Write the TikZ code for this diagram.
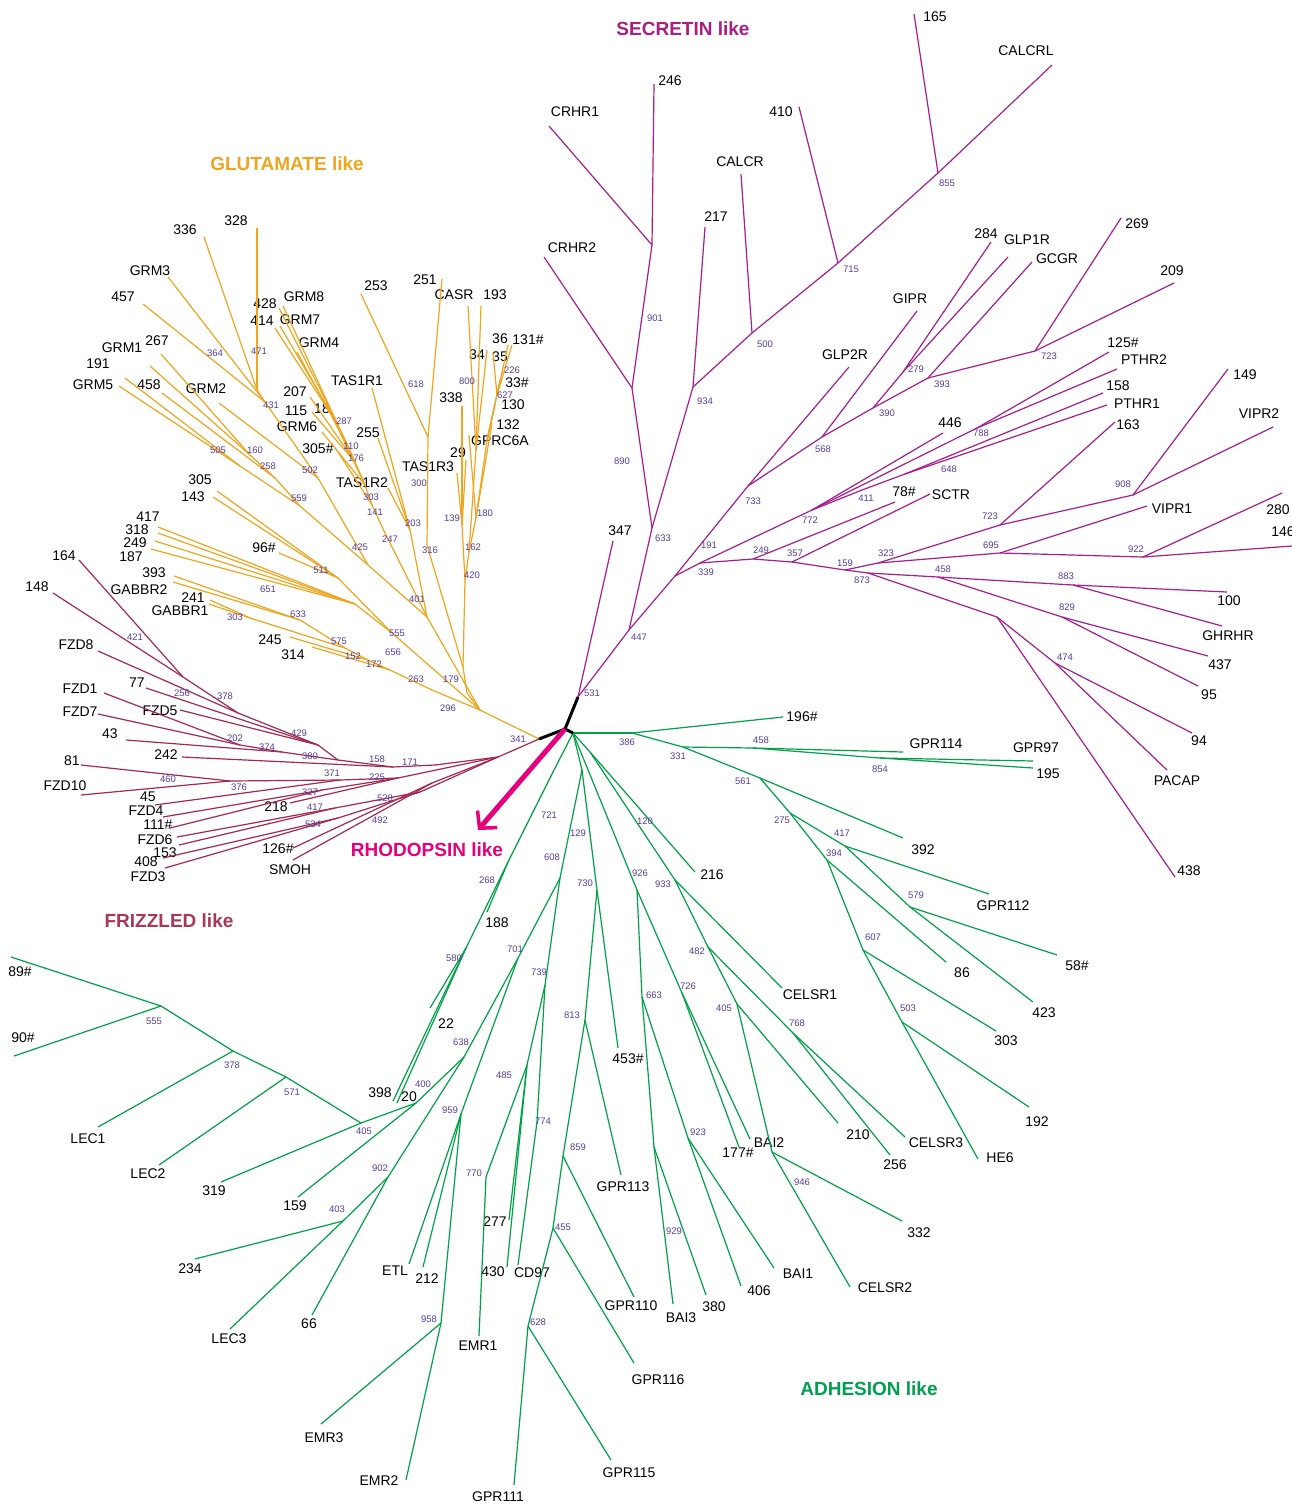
\documentclass[tikz,border=0pt]{standalone}
\usepackage{fontspec}
\setmainfont{Liberation Sans}
\usetikzlibrary{arrows.meta}
\definecolor{glucol}{RGB}{240,165,30}
\definecolor{fzdcol}{RGB}{165,40,80}
\definecolor{fzdtit}{RGB}{170,55,90}
\definecolor{seccol}{RGB}{165,30,140}
\definecolor{sectit}{RGB}{170,30,130}
\definecolor{adhcol}{RGB}{0,160,70}
\definecolor{adhtit}{RGB}{0,160,80}
\definecolor{bootcol}{RGB}{85,60,160}
\definecolor{rhocol}{RGB}{230,0,126}
\begin{document}
\begin{tikzpicture}[x=1pt,y=-1pt,
    glu/.style={draw=glucol, line width=1.2pt},
    fzd/.style={draw=fzdcol, line width=1.2pt},
    sec/.style={draw=seccol, line width=1.2pt},
    adh/.style={draw=adhcol, line width=1.2pt},
    stem/.style={draw=black, line width=3pt},
    rho/.style={draw=rhocol, line width=5pt, -{Straight Barb[length=12pt,width=26pt,line width=3.5pt]}},
    leaf/.style={inner sep=0pt, font=\fontsize{14}{14}\selectfont},
    boot/.style={inner sep=0pt, text=bootcol, font=\fontsize{9.5}{10}\selectfont},
    title/.style={inner sep=0pt, font=\fontsize{19}{19}\selectfont\bfseries}]
\useasboundingbox (0,0) rectangle (1292,1505);

% titles
\node[title, text=sectit] (secT) at (683,29) {SECRETIN like};
\node[title, text=glucol] (gluT) at (287,164) {GLUTAMATE like};
\node[title, text=fzdtit] (fzdT) at (169,921) {FRIZZLED like};
\node[title, text=adhtit] (adhT) at (869,1389) {ADHESION like};
\node[title, text=rhocol] (rhoT) at (427,850) {RHODOPSIN like};

% root
\coordinate (root) at (565,729);
\coordinate (rhtip) at (478,830);

% ---------------- secretin ----------------
\foreach \nm/\x/\y in {sn531/578/697, sn447/629/630, sn633/652/528, sn890/632/388,
  sn901/652/245, sn934/693/387, sn500/752/333, sn715/838/263, sn855/938/173,
  sn339/675/576, sn191/700/563, sn733/748/486, sn568/822/437, sn390/873/408,
  sn279/903/372, sn393/928/378, sn723/1035/351, sn772/812/510, sn411/862/490,
  sn788/977/428, sn648/905/474, sn249/753/559, sn357/792/562, sn159/845/570,
  sn323/878/563, sn723b/1000/525, sn908/1133/495, sn695/1000/553, sn922/1143/557,
  sn873/868/573, sn458/938/577, sn883/1073/585, sn829/1062/617, sn997/997/617,
  sn474/1055/663}
  \coordinate (\nm) at (\x,\y);
\foreach \nm/\ex/\ey/\lx/\ly/\lab in {s347/613/541/620/531/347, sCRHR2/544/257/572/248/CRHR2,
  sCRHR1/549/126/575/112/CRHR1, s246/654/84/670/81/246, s217/705/227/716/217/217,
  sCALCR/741/174/740/162/CALCR, s410/799/107/781/112/410, s165/914/14/935/17/165,
  sCALCRL/1052/65/1026/51/CALCRL, sGLP2R/849/367/845/355/GLP2R, sGIPR/917/311/910/299/GIPR,
  s284/991/242/986/234/284, sGLP1R/1008/257/1027/240/GLP1R, sGCGR/1032/262/1057/259/GCGR,
  s269/1121/218/1137/224/269, s209/1174/283/1172/271/209, s446/943/433/950/423/446,
  s125h/1109/352/1123/343/125\#, sPTHR2/1117/369/1144/360/PTHR2, s158/1103/393/1118/386/158,
  sPTHR1/1107/405/1137/404/PTHR1, s78h/895/502/904/492/78\#, sSCTR/930/494/951/495/SCTR,
  s163/1115/422/1128/425/163, s149/1228/369/1245/375/149, sVIPR2/1273/427/1259/414/VIPR2,
  sVIPR1/1147/506/1172/509/VIPR1, s280/1282/493/1278/510/280, s146/1292/546/1283/532/146,
  s100/1227/592/1229/601/100, sGHRHR/1222/626/1228/636/GHRHR, s437/1208/656/1220/665/437,
  s95/1198/686/1209/695/95, s94/1192/733/1199/741/94, sPACAP/1167/770/1177/781/PACAP,
  s438/1175/877/1189/871/438}
  {\coordinate (\nm) at (\ex,\ey); \node[leaf] (\nm-t) at (\lx,\ly) {\lab};}
\foreach \a/\b in {sn531/s347, sn531/sn447, sn447/sn633, sn447/sn339, sn633/sn890,
  sn633/sn934, sn890/sCRHR2, sn890/sn901, sn901/sCRHR1, sn901/s246, sn934/s217,
  sn934/sn500, sn500/sCALCR, sn500/sn715, sn715/s410, sn715/sn855, sn855/s165,
  sn855/sCALCRL, sn339/sn733, sn339/sn191, sn733/sGLP2R, sn733/sn568, sn568/sGIPR,
  sn568/sn390, sn390/sn279, sn279/s284, sn279/sGLP1R, sn390/sn393, sn393/sGCGR,
  sn393/sn723, sn723/s269, sn723/s209, sn191/sn772, sn772/s446, sn772/sn788,
  sn788/s125h, sn788/sPTHR2, sn772/sn411, sn411/sn648, sn648/s158, sn648/sPTHR1,
  sn191/sn249, sn249/s78h, sn249/sn357, sn357/sSCTR, sn357/sn159, sn159/sn323,
  sn323/sn723b, sn723b/s163, sn723b/sn908, sn908/s149, sn908/sVIPR2, sn323/sn695,
  sn695/sVIPR1, sn695/sn922, sn922/s280, sn922/s146, sn159/sn873, sn873/sn458,
  sn458/sn883, sn883/s100, sn883/sGHRHR, sn458/sn829, sn829/s437, sn829/s95,
  sn873/sn997, sn997/s438, sn997/sn474, sn474/s94, sn474/sPACAP}
  \draw[sec] (\a) -- (\b);
\foreach \v/\x/\y [count=\i] in {531/592/693, 447/639/637, 633/663/538, 890/622/461,
  901/655/318, 934/705/401, 500/765/344, 715/851/269, 855/947/183, 339/706/572,
  191/709/545, 733/753/501, 568/823/449, 390/887/413, 279/916/369, 393/942/384,
  723/1049/356, 772/810/520, 411/866/498, 788/981/433, 648/949/469, 249/761/550,
  357/795/553, 159/845/563, 873/862/580, 323/886/553, 723/990/516, 695/991/545,
  908/1123/484, 922/1136/549, 458/943/569, 883/1066/576, 829/1067/607, 474/1065/657}
  \node[boot] (bsS\i) at (\x,\y) {\v};

% ---------------- glutamate ----------------
\foreach \nm/\x/\y in {gn0/539/739, gn296/480/710, gn179/467/693, gnA/463/667,
  gn420/465/580, gn139/462/525, gn162/469/552, gn180/476/518, gn627/487/440,
  gn226/497/395, gn800/476/450, gn316/427/545, gn618/428/437, gn401/427/617,
  gn203/410/530, gn247/385/533, gn141/372/505, gn303/365/485, gn176/355/462,
  gn110/349/448, gn287/338/425, gn425/368/565, gn502/318/478, gn431/265/402,
  gn471/257/390, gn559/300/506, gn258/275/478, gn160/250/455, gn505/240/466,
  gn555/392/633, gn511/338/578, gn651/355/604, gn263/432/690, gn172/390/670,
  gn152/368/660, gn575/345/648, gn633/300/620, gn303b/250/618}
  \coordinate (\nm) at (\x,\y);
\foreach \nm/\ex/\ey/\lx/\ly/\lab in {g328/257/228/236/221/328, g336/204/237/185/230/336,
  gGRM3/168/277/150/271/GRM3, g457/143/304/123/297/457, gGRM1/150/366/122/348/GRM1,
  g267/161/354/157/341/267, g191/125/378/98/364/191, gGRM5/119/386/93/385/GRM5,
  g458/162/393/149/385/458, gGRM2/219/403/206/389/GRM2, gGRM8/283/306/304/297/GRM8,
  g428/279/308/265/304/428, gGRM7/280/326/300/320/GRM7, g414/275/328/262/321/414,
  gGRM4/297/352/319/343/GRM4, g207/310/397/295/392/207, g115/312/412/296/411/115,
  g18/333/418/322/409/18, gGRM6/322/432/297/427/GRM6, g305h/338/452/318/449/305\#,
  g253/361/294/376/286/253, g251/442/279/425/280/251, gCASR/468/306/454/295/CASR,
  g193/481/306/495/295/193, g36/508/345/500/339/36, g131h/512/345/528/340/131\#,
  g34/487/350/477/355/34, g35/493/353/500/357/35, g33h/500/380/517/383/33\#,
  g130/495/405/513/405/130, g338/462/406/451/398/338, g132/492/423/508/425/132,
  gGPRC6A/469/435/500/441/GPRC6A, g29/466/460/458/453/29, gTAS1R3/457/473/428/467/TAS1R3,
  gTAS1R1/372/388/357/381/TAS1R1, g255/378/438/368/433/255, gTAS1R2/388/488/362/483/TAS1R2,
  g305/217/491/200/480/305, g143/213/497/193/497/143, g417/158/527/148/517/417,
  g318/158/533/137/530/318, g249/155/541/135/543/249, g187/151/549/131/557/187,
  g393/174/576/154/573/393, gGABBR2/173/582/139/590/GABBR2, g241/210/600/193/598/241,
  gGABBR1/209/604/180/611/GABBR1, g96h/279/553/264/548/96\#, g245/290/637/270/640/245,
  g314/312/647/293/655/314}
  {\coordinate (\nm) at (\ex,\ey); \node[leaf] (\nm-t) at (\lx,\ly) {\lab};}
\foreach \a/\b in {gn0/gn296, gn296/gn179, gn179/gnA, gnA/gn420, gn420/gn139,
  gn139/g338, gn139/g29, gn139/gTAS1R3, gn420/gn162, gn162/gn180, gn180/g132,
  gn180/gGPRC6A, gn180/gn627, gn627/g33h, gn627/g130, gn627/gn226, gn226/g36,
  gn226/g131h, gn226/g35, gn162/gn800, gn800/gCASR, gn800/g193, gn800/g34,
  gnA/gn316, gn316/gn618, gn618/g253, gn618/g251, gn296/gn401, gn401/gn203,
  gn203/gTAS1R1, gn203/g255, gn203/gTAS1R2, gn401/gn247, gn247/gn141, gn141/gn303,
  gn303/gn176, gn176/gn110, gn110/gn287, gn287/gGRM8, gn287/g428, gn287/gGRM7,
  gn287/g414, gn110/gGRM4, gn176/g207, gn176/g115, gn303/g18, gn303/gGRM6,
  gn141/g305h, gn401/gn425, gn425/gn502, gn502/gn431, gn502/gGRM2, gn431/gn471,
  gn471/g328, gn471/g336, gn431/gGRM3, gn431/g457, gn425/gn559, gn559/gn258,
  gn258/gn160, gn160/gGRM1, gn160/g267, gn258/g458, gn559/gn505, gn505/g191,
  gn505/gGRM5, gn296/gn555, gn555/gn511, gn511/g305, gn511/g143, gn511/g96h,
  gn555/gn651, gn651/g417, gn651/g318, gn651/g249, gn651/g187, gn296/gn263,
  gn263/gn172, gn172/g314, gn172/gn152, gn152/g245, gn152/gn575, gn575/gn633,
  gn633/g393, gn633/gGABBR2, gn575/gn303b, gn303b/g241, gn303b/gGABBR1}
  \draw[glu] (\a) -- (\b);
\foreach \v/\x/\y [count=\i] in {364/215/353, 471/259/351, 431/271/405, 505/218/450,
  160/255/450, 258/268/466, 502/310/470, 559/299/498, 287/344/421, 110/351/446,
  176/356/458, 303/371/497, 141/375/512, 247/390/539, 425/360/547, 511/321/570,
  401/417/599, 203/413/523, 316/430/550, 300/419/483, 618/416/384, 800/467/381,
  139/452/518, 180/485/513, 162/473/547, 420/472/575, 651/268/589, 633/298/614,
  303/235/617, 575/339/641, 555/397/633, 656/393/652, 152/353/656, 172/374/664,
  263/416/679, 179/451/679, 296/448/708, 226/512/370, 627/505/395}
  \node[boot] (bsG\i) at (\x,\y) {\v};

% ---------------- frizzled ----------------
\foreach \nm/\x/\y in {fn0/498/757, fn171/435/765, fn158/393/767, fn380/338/760,
  fn429/318/745, fn378/238/713, fn421/183/677, fn374/282/752, fn202/240/745,
  fn225/398/778, fn371/340/780, fn460/230/781, fn327/322/790, fn528/420/792,
  fn417/335/808, fn534/338/818, fn492/432/783}
  \coordinate (\nm) at (\x,\y);
\foreach \nm/\ex/\ey/\lx/\ly/\lab in {f164/79/560/64/556/164, f148/53/593/37/587/148,
  fFZD8/98/651/76/645/FZD8, f77/146/688/137/683/77, fFZD1/104/693/80/689/FZD1,
  fFZD5/180/710/160/711/FZD5, fFZD7/98/714/80/712/FZD7, f43/126/740/110/734/43,
  f242/182/757/166/755/242, f81/81/765/72/761/81, fFZD10/81/795/65/786/FZD10,
  f45/155/805/148/797/45, fFZD4/163/817/146/811/FZD4, f111h/170/828/158/825/111\#,
  f218/290/803/276/807/218, fFZD6/177/837/155/840/FZD6, f153/179/845/165/853/153,
  f408/163/858/146/862/408, fFZD3/165/868/148/877/FZD3, f126h/293/848/278/849/126\#,
  fSMOH/293/860/290/870/SMOH}
  {\coordinate (\nm) at (\ex,\ey); \node[leaf] (\nm-t) at (\lx,\ly) {\lab};}
\foreach \a/\b in {gn0/fn0, fn0/fn171, fn171/fn158, fn158/f242, fn158/fn380,
  fn380/fn429, fn429/fn378, fn378/fn421, fn421/f164, fn421/f148, fn378/fFZD8,
  fn429/f77, fn429/fFZD5, fn380/fn374, fn374/fn202, fn202/fFZD1, fn202/fFZD7,
  fn374/f43, fn0/fn225, fn225/fn371, fn371/fn460, fn460/f81, fn460/fFZD10,
  fn371/f45, fn225/fn327, fn327/fFZD4, fn327/f111h, fn225/f218, fn0/fn528,
  fn528/fn417, fn417/fFZD6, fn417/f153, fn528/fn534, fn534/f408, fn534/fFZD3,
  fn0/fn492, fn492/f126h, fn492/fSMOH}
  \draw[fzd] (\a) -- (\b);
\foreach \v/\x/\y [count=\i] in {421/135/637, 256/182/693, 378/225/696, 429/299/733,
  202/235/738, 374/267/747, 380/310/756, 158/377/759, 171/410/762, 371/332/773,
  225/377/777, 460/168/779, 376/239/787, 327/310/792, 528/385/798, 417/315/807,
  534/313/824, 492/380/820, 341/518/739}
  \node[boot] (bsF\i) at (\x,\y) {\v};

% ---------------- adhesion ----------------
\foreach \nm/\x/\y in {an0/573/733, an386/632/733, an331/683/747, an458/753/748,
  an854/880/758, an561/760/778, an275/790/813, an417/845/846, an579/910/907,
  an394/827/860, an607/863/950, an503/902/1022, an120/590/752, an933/675/880,
  an482/708/947, an768/793/1033, an405/737/1004, an946/772/1152, an926/637/890,
  an726/682/993, an663/642/997, an923/688/1138, an929/654/1147, an129/582/770,
  an730/597/890, an813/585/1020, an859/563/1156, an455/553/1228, an628/528/1326,
  an608/560/878, an701/518/958, an739/545/985, an638/464/1057, an959/461/1114,
  an400/416/1103, an902/388/1177, an405b/361/1123, an571/286/1077, an378/233/1051,
  an555/161/1006, an403/343/1221, an958/441/1323, an485/527/1065, an770/486/1177,
  an774/537/1122, an721/553/772, an268/508/862, an580/466/948}
  \coordinate (\nm) at (\x,\y);
\foreach \nm/\ex/\ey/\lx/\ly/\lab in {a196h/783/717/802/717/196\#, aGPR114/903/752/936/744/GPR114,
  aGPR97/1033/761/1036/748/GPR97, a195/1033/768/1048/774/195, a392/903/838/923/850/392,
  aGPR112/989/894/1003/906/GPR112, a58h/1057/955/1077/966/58\#, a423/1033/1002/1044/1013/423,
  a86/946/962/962/973/86, a303/996/1031/1006/1041/303, a192/1029/1107/1037/1122/192,
  aHE6/978/1159/1000/1158/HE6, a216/695/872/712/875/216, aCELSR1/782/988/810/995/CELSR1,
  aCELSR3/905/1137/936/1143/CELSR3, a256/890/1155/895/1165/256, a210/838/1123/858/1135/210,
  aCELSR2/850/1287/885/1288/CELSR2, a332/902/1221/919/1233/332, a177h/739/1147/738/1153/177\#,
  aBAI2/750/1139/769/1143/BAI2, aBAI1/774/1268/798/1274/BAI1, a406/741/1286/759/1291/406,
  a380/706/1295/714/1307/380, aBAI3/673/1304/681/1318/BAI3, a453h/618/1048/628/1059/453\#,
  aGPR113/621/1175/623/1187/GPR113, aGPR110/634/1297/631/1306/GPR110,
  aGPR116/634/1363/658/1380/GPR116, aGPR115/611/1460/629/1473/GPR115,
  aGPR111/514/1485/498/1497/GPR111, aCD97/518/1265/532/1273/CD97, a430/507/1267/493/1272/430,
  a277/509/1220/495/1222/277, aEMR1/479/1336/478/1346/EMR1, aEMR2/406/1480/379/1481/EMR2,
  aEMR3/321/1424/324/1438/EMR3, aETL/409/1264/395/1271/ETL, a212/423/1267/427/1279/212,
  a66/312/1315/309/1324/66, aLEC3/230/1329/229/1339/LEC3, a234/195/1259/190/1269/234,
  a159/298/1197/295/1206/159, a319/221/1182/214/1191/319, aLEC2/159/1165/148/1174/LEC2,
  aLEC1/98/1127/88/1139/LEC1, a89h/11/957/20/972/89\#, a90h/14/1056/23/1038/90\#,
  a398/393/1101/380/1093/398, a20/397/1103/409/1097/20, a22/430/1008/446/1024/22,
  a188/487/912/497/923/188}
  {\coordinate (\nm) at (\ex,\ey); \node[leaf] (\nm-t) at (\lx,\ly) {\lab};}
\foreach \a/\b in {an0/an386, an386/a196h, an386/an331, an331/an458, an458/aGPR114,
  an458/an854, an854/aGPR97, an854/a195, an331/an561, an561/a392, an561/an275,
  an275/an417, an417/aGPR112, an417/an579, an579/a58h, an579/a423, an275/an394,
  an394/a86, an394/an607, an607/a303, an607/an503, an503/a192, an503/aHE6,
  an0/an120, an120/a216, an120/an933, an933/aCELSR1, an933/an482, an482/an768,
  an768/aCELSR3, an768/a256, an482/an405, an405/a210, an405/an946, an946/aCELSR2,
  an946/a332, an0/an926, an926/an726, an726/aBAI2, an726/a177h, an926/an663,
  an663/an923, an923/a406, an923/aBAI1, an663/an929, an929/aBAI3, an929/a380,
  an0/an129, an129/an730, an730/a453h, an730/an813, an813/aGPR113, an813/an859,
  an859/aGPR110, an859/an455, an455/aGPR116, an455/an628, an628/aGPR111,
  an628/aGPR115, an129/an608, an608/an701, an701/an638, an638/an400, an400/a159,
  an400/an405b, an405b/a319, an405b/an571, an571/aLEC2, an571/an378, an378/aLEC1,
  an378/an555, an555/a89h, an555/a90h, an638/an902, an902/a66, an902/an403,
  an403/a234, an403/aLEC3, an701/an959, an959/aETL, an959/a212, an959/an958,
  an958/aEMR3, an958/aEMR2, an608/an739, an739/an485, an485/an770, an770/aEMR1,
  an485/a277, an485/a430, an739/an774, an774/aCD97, an0/an721, an721/an268,
  an268/a188, an268/an580, an580/a22, an580/a398, an580/a20}
  \draw[adh] (\a) -- (\b);
\foreach \v/\x/\y [count=\i] in {386/627/742, 331/678/756, 458/761/740, 854/880/769,
  561/743/781, 275/782/820, 417/842/833, 394/834/853, 579/916/895, 607/873/937,
  503/908/1008, 721/549/815, 129/578/833, 120/645/821, 926/640/873, 933/663/884,
  608/552/857, 730/585/883, 268/487/880, 482/697/951, 726/688/986, 663/654/995,
  405/724/1008, 768/797/1023, 813/572/1015, 923/698/1132, 859/578/1147, 946/802/1182,
  929/674/1231, 455/563/1227, 628/538/1322, 958/429/1319, 580/454/958, 701/515/949,
  739/539/972, 638/461/1042, 400/423/1084, 959/450/1110, 902/380/1168, 403/337/1209,
  485/504/1075, 770/474/1173, 774/543/1121, 555/154/1021, 378/232/1065, 571/292/1092,
  405/364/1131}
  \node[boot] (bsA\i) at (\x,\y) {\v};

% central stem and rhodopsin arrow
\draw[stem] (root) -- (sn531);
\draw[stem] (root) -- (gn0);
\draw[stem] (root) -- (an0);
\draw[rho] (root) -- (rhtip);
\end{tikzpicture}
\end{document}
